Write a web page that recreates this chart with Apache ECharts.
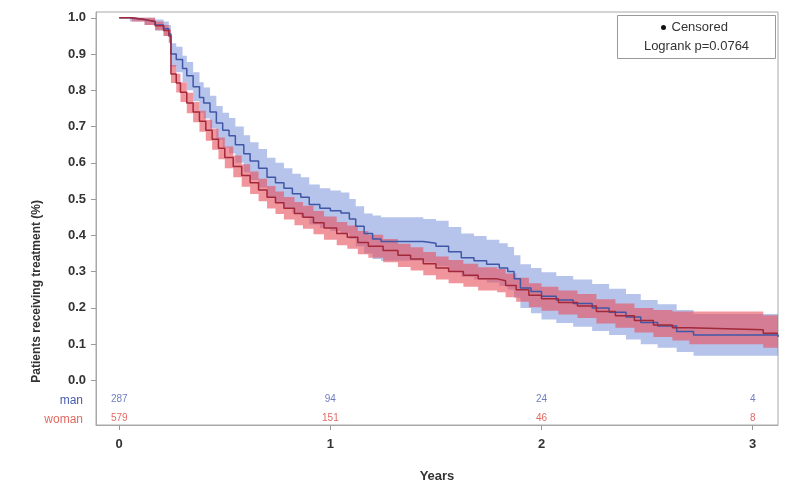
<!DOCTYPE html>
<html>
<head>
<meta charset="utf-8">
<script src="https://cdn.jsdelivr.net/npm/echarts@6/dist/echarts.min.js"></script>
<style>
  html, body { margin: 0; padding: 0; background: #fff; }
  #chart { width: 785px; height: 488px; }
</style>
</head>
<body>
<div id="chart"></div>
<script>
// Kaplan-Meier estimates (step values after each time point) with confidence bands
const manTime  = [0,0.05,0.12,0.17,0.21,0.235,0.245,0.27,0.30,0.32,0.35,0.38,0.40,0.43,0.46,0.49,0.52,0.55,0.59,0.62,0.66,0.70,0.74,0.78,0.82,0.86,0.90,0.95,1.0,1.05,1.09,1.12,1.16,1.2,1.24,1.44,1.50,1.56,1.62,1.68,1.74,1.80,1.84,1.87,1.90,1.95,2.0,2.07,2.15,2.24,2.32,2.40,2.47,2.55,2.64,2.72,3.12];
const manSurv  = [1.0,0.995,0.99,0.98,0.97,0.955,0.90,0.885,0.86,0.84,0.81,0.78,0.765,0.74,0.71,0.69,0.675,0.65,0.625,0.605,0.585,0.56,0.545,0.53,0.515,0.505,0.485,0.475,0.468,0.462,0.445,0.425,0.405,0.39,0.383,0.378,0.37,0.355,0.338,0.33,0.32,0.31,0.30,0.28,0.255,0.245,0.232,0.222,0.212,0.2,0.188,0.175,0.16,0.15,0.135,0.125,0.12];
const manUpper = [1.0,1.0,1.0,0.995,0.99,0.98,0.93,0.92,0.895,0.878,0.85,0.822,0.808,0.785,0.757,0.738,0.724,0.70,0.676,0.657,0.638,0.614,0.60,0.585,0.57,0.56,0.54,0.53,0.524,0.518,0.50,0.48,0.46,0.455,0.45,0.445,0.44,0.423,0.405,0.398,0.388,0.378,0.368,0.345,0.32,0.31,0.298,0.288,0.278,0.266,0.253,0.238,0.222,0.21,0.194,0.183,0.178];
const manLower = [1.0,0.99,0.98,0.965,0.95,0.93,0.865,0.85,0.823,0.80,0.77,0.738,0.722,0.695,0.663,0.642,0.626,0.60,0.574,0.553,0.532,0.506,0.49,0.475,0.46,0.45,0.43,0.42,0.412,0.406,0.39,0.37,0.35,0.335,0.33,0.325,0.315,0.30,0.285,0.278,0.27,0.26,0.25,0.228,0.2,0.185,0.168,0.158,0.148,0.136,0.125,0.113,0.10,0.09,0.078,0.068,0.064];

const womanTime  = [0,0.06,0.12,0.17,0.21,0.235,0.245,0.27,0.29,0.32,0.35,0.38,0.41,0.44,0.47,0.50,0.54,0.58,0.62,0.66,0.70,0.74,0.78,0.83,0.87,0.92,0.97,1.03,1.08,1.13,1.18,1.25,1.32,1.38,1.44,1.50,1.56,1.63,1.70,1.79,1.83,1.88,1.94,2.0,2.08,2.17,2.26,2.35,2.44,2.53,2.62,2.70,3.05,3.12];
const womanSurv  = [1.0,0.995,0.99,0.978,0.965,0.95,0.845,0.82,0.795,0.765,0.74,0.715,0.69,0.665,0.64,0.615,0.59,0.565,0.545,0.525,0.505,0.49,0.475,0.46,0.45,0.435,0.42,0.405,0.395,0.38,0.37,0.358,0.345,0.335,0.322,0.31,0.30,0.29,0.28,0.275,0.262,0.25,0.235,0.225,0.215,0.205,0.19,0.178,0.165,0.153,0.145,0.14,0.13,0.13];
const womanUpper = [1.0,1.0,1.0,0.99,0.98,0.968,0.87,0.846,0.822,0.793,0.768,0.744,0.719,0.694,0.67,0.645,0.62,0.596,0.576,0.556,0.536,0.521,0.506,0.492,0.482,0.467,0.452,0.437,0.427,0.412,0.402,0.39,0.377,0.367,0.354,0.342,0.332,0.322,0.312,0.307,0.295,0.283,0.268,0.258,0.248,0.238,0.224,0.212,0.2,0.194,0.19,0.19,0.18,0.18];
const womanLower = [1.0,0.99,0.98,0.966,0.95,0.932,0.82,0.794,0.768,0.737,0.712,0.686,0.661,0.636,0.61,0.585,0.56,0.534,0.514,0.494,0.474,0.459,0.444,0.428,0.418,0.403,0.388,0.373,0.363,0.348,0.338,0.326,0.313,0.303,0.29,0.278,0.268,0.258,0.248,0.243,0.229,0.217,0.202,0.192,0.182,0.172,0.157,0.145,0.132,0.12,0.11,0.1,0.09,0.085];

// Number at risk table
const riskYears = [0, 1, 2, 3];
const manAtRisk = [287, 94, 24, 4];
const womanAtRisk = [579, 151, 46, 8];

const yTicks = [0, 0.1, 0.2, 0.3, 0.4, 0.5, 0.6, 0.7, 0.8, 0.9, 1.0];
const xTicks = [0, 1, 2, 3];

const BLUE_LINE = '#3f57a6', BLUE_BAND = 'rgba(110,135,215,0.5)';
const RED_LINE = '#a3283a', RED_BAND = 'rgba(232,78,92,0.6)';
const FONT = '"Liberation Sans", Arial, sans-serif';

function pairs(t, v) { return t.map((x, i) => [x, v[i]]); }

// Step-shaped confidence band polygon
function bandSeries(name, t, up, lo, color) {
  return {
    name, type: 'custom', coordinateSystem: 'cartesian2d', silent: true,
    data: [[t[0], up[0]]],
    renderItem: function (params, api) {
      const pts = [];
      for (let i = 0; i < t.length; i++) {
        pts.push(api.coord([t[i], up[i]]));
        if (i + 1 < t.length) pts.push(api.coord([t[i + 1], up[i]]));
      }
      for (let i = t.length - 1; i >= 0; i--) {
        if (i + 1 < t.length) pts.push(api.coord([t[i + 1], lo[i]]));
        pts.push(api.coord([t[i], lo[i]]));
      }
      return { type: 'polygon', shape: { points: pts }, style: { fill: color } };
    },
    z: 1
  };
}

function curveSeries(name, t, v, color) {
  return {
    name, type: 'line', step: 'end', showSymbol: false, silent: true,
    data: pairs(t, v), lineStyle: { color, width: 1.5 }, z: 3
  };
}

function riskSeries(name, counts, yPos, color) {
  return {
    name, type: 'scatter', symbolSize: 0, silent: true,
    data: riskYears.map((x, i) => [x, yPos, counts[i]]),
    label: {
      show: true, position: 'inside', color, fontSize: 10, fontFamily: FONT,
      formatter: p => String(p.value[2])
    }, z: 4
  };
}

const chart = echarts.init(document.getElementById('chart'), null, { renderer: 'canvas' });
chart.setOption({
  animation: false,
  backgroundColor: '#ffffff',
  grid: {
    left: 96, right: 7, top: 12, bottom: 60,
    show: true, borderColor: '#a8a8a8', borderWidth: 1, backgroundColor: 'transparent'
  },
  xAxis: {
    type: 'value', min: -0.11, max: 3.12,
    name: 'Years', nameLocation: 'middle', nameGap: 45,
    nameTextStyle: { fontSize: 13, fontWeight: 'bold', color: '#333', fontFamily: FONT },
    axisLine: { show: true, onZero: false, lineStyle: { color: '#a8a8a8' } },
    axisTick: { show: true, length: 5, customValues: xTicks, lineStyle: { color: '#999' } },
    axisLabel: { customValues: xTicks, fontSize: 13, fontWeight: 'bold', color: '#333', margin: 13, fontFamily: FONT },
    splitLine: { show: false }
  },
  yAxis: {
    type: 'value', min: -0.123, max: 1.016,
    axisLine: { show: true, onZero: false, lineStyle: { color: '#a8a8a8' } },
    axisTick: { show: true, length: 5, customValues: yTicks, lineStyle: { color: '#999' } },
    axisLabel: {
      customValues: yTicks, fontSize: 13, fontWeight: 'bold', color: '#333', margin: 10, fontFamily: FONT,
      formatter: v => v.toFixed(1)
    },
    splitLine: { show: false }
  },
  series: [
    bandSeries('man band', manTime, manUpper, manLower, BLUE_BAND),
    bandSeries('woman band', womanTime, womanUpper, womanLower, RED_BAND),
    curveSeries('man', manTime, manSurv, BLUE_LINE),
    curveSeries('woman', womanTime, womanSurv, RED_LINE),
    riskSeries('man at risk', manAtRisk, -0.052, '#4a5cb0'),
    riskSeries('woman at risk', womanAtRisk, -0.104, '#d9443c')
  ],
  graphic: [
    {
      type: 'text', left: 31, top: 200, rotation: Math.PI / 2, silent: true,
      style: {
        text: 'Patients receiving treatment (%)', x: 0, y: 0,
        fill: '#333', font: 'bold 12px ' + FONT, align: 'center', verticalAlign: 'middle'
      },
      originX: 0, originY: 0
    },
    {
      type: 'text', right: 702, top: 395, silent: true,
      style: { text: 'man', fill: '#4a5cb0', font: '12px ' + FONT, align: 'right' }
    },
    {
      type: 'text', right: 702, top: 414, silent: true,
      style: { text: 'woman', fill: '#e06a60', font: '12px ' + FONT, align: 'right' }
    },
    {
      type: 'group', left: 617, top: 15, silent: true,
      children: [
        { type: 'rect', shape: { x: 0, y: 0, width: 158, height: 43 }, style: { fill: '#fff', stroke: '#999', lineWidth: 1 } },
        { type: 'circle', shape: { cx: 46, cy: 12, r: 2.5 }, style: { fill: '#111' } },
        { type: 'text', x: 54, y: 12, style: { text: 'Censored', fill: '#333', font: '13px ' + FONT, verticalAlign: 'middle' } },
        { type: 'text', x: 79, y: 31, style: { text: 'Logrank p=0.0764', fill: '#333', font: '13px ' + FONT, align: 'center', verticalAlign: 'middle' } }
      ]
    }
  ]
});
</script>
</body>
</html>
